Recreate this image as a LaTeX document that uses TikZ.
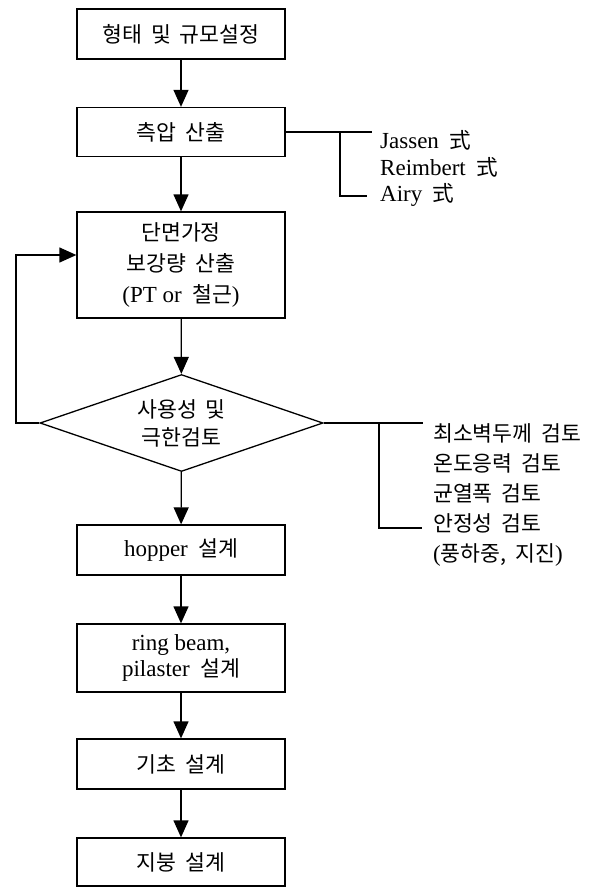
\documentclass[tikz,border=0pt]{standalone}
\usepackage{fontspec}
\setmainfont{Liberation Serif}
\newfontfamily\kr{Noto Sans CJK KR}[Scale=0.94, WordSpace=1.8]
\newcommand\kgap{\hspace{0.45em}}
\usepackage{tikz}
\usetikzlibrary{arrows.meta,shapes.geometric}

\begin{document}
\begin{tikzpicture}[x=1pt,y=-1pt,
    txt/.style={font=\fontsize{23}{29}\selectfont},
    box/.style={txt, draw, line width=1.3pt, minimum width=208pt, align=center, inner sep=0pt},
    check/.style={txt, draw, diamond, aspect=2.9, minimum width=283pt, minimum height=97pt, inner sep=0pt, line width=1.3pt, align=center},
    note/.style={txt, anchor=west, inner sep=0pt},
    arr/.style={-{Triangle[length=17pt, width=15pt]}, line width=1.3pt},
    brace/.style={line width=1.3pt}]

    \useasboundingbox (0,0) rectangle (590,888);

    % Boîtes principales
    \node[box, minimum height=50pt] (forme) at (181,34) {\kr 형태 및 규모설정};
    \node[box, minimum height=49pt] (pression) at (181,132) {\kr 측압 산출};
    \node[box, minimum height=106pt, font=\fontsize{23}{31}\selectfont] (section) at (181,265) {{\kr 단면가정}\\{\kr 보강량 산출}\\(PT or\kgap{\kr 철근})};
    \node[check, font=\fontsize{23}{28}\selectfont] (verif) at (181.5,423) {{\kr 사용성 및}\\{\kr 극한검토}};
    \node[box, minimum height=50pt] (hopper) at (181,550) {hopper\kgap{\kr 설계}};
    \node[box, minimum height=68pt, font=\fontsize{23}{26}\selectfont] (ring) at (181,658) {ring beam,\\pilaster\kgap{\kr 설계}};
    \node[box, minimum height=50pt] (fondation) at (181,764) {\kr 기초 설계};
    \node[box, minimum height=48pt] (toit) at (181,862) {\kr 지붕 설계};

    % Flèches verticales
    \draw[arr] (forme) -- (pression);
    \draw[arr] (pression) -- (section);
    \draw[arr] (section) -- (verif);
    \draw[arr] (verif) -- (hopper);
    \draw[arr] (hopper) -- (ring);
    \draw[arr] (ring) -- (fondation);
    \draw[arr] (fondation) -- (toit);

    % Retour vers le dimensionnement
    \coordinate (retour) at (16,255);
    \draw[arr] (verif.west) -| (retour) -- (retour -| section.west);

    % Méthodes de pression latérale
    \node[note] (jassen) at (380,140) {Jassen\kgap{\kr 式}};
    \node[note] (reimbert) at (380,167) {Reimbert\kgap{\kr 式}};
    \node[note] (airy) at (380,195) {Airy\kgap{\kr 式}};
    \coordinate (p1) at (372,132);
    \coordinate (p2) at (340,132);
    \coordinate (p3) at (367,196);
    \draw[brace] (pression.east) -- (p1);
    \draw[brace] (p2) |- (p3);

    % Vérifications
    \node[note] (epaisseur) at (433,433) {\kr 최소벽두께 검토};
    \node[note] (thermique) at (433,463) {\kr 온도응력 검토};
    \node[note] (fissure) at (433,493) {\kr 균열폭 검토};
    \node[note] (stabilite) at (433,523) {\kr 안정성 검토};
    \node[note] (charges) at (433,555) {({\kr 풍하중, 지진})};
    \coordinate (v1) at (423,423);
    \coordinate (v2) at (379,423);
    \coordinate (v3) at (422,528);
    \draw[brace] (verif.east) -- (v1);
    \draw[brace] (v2) |- (v3);

\end{tikzpicture}
\end{document}
